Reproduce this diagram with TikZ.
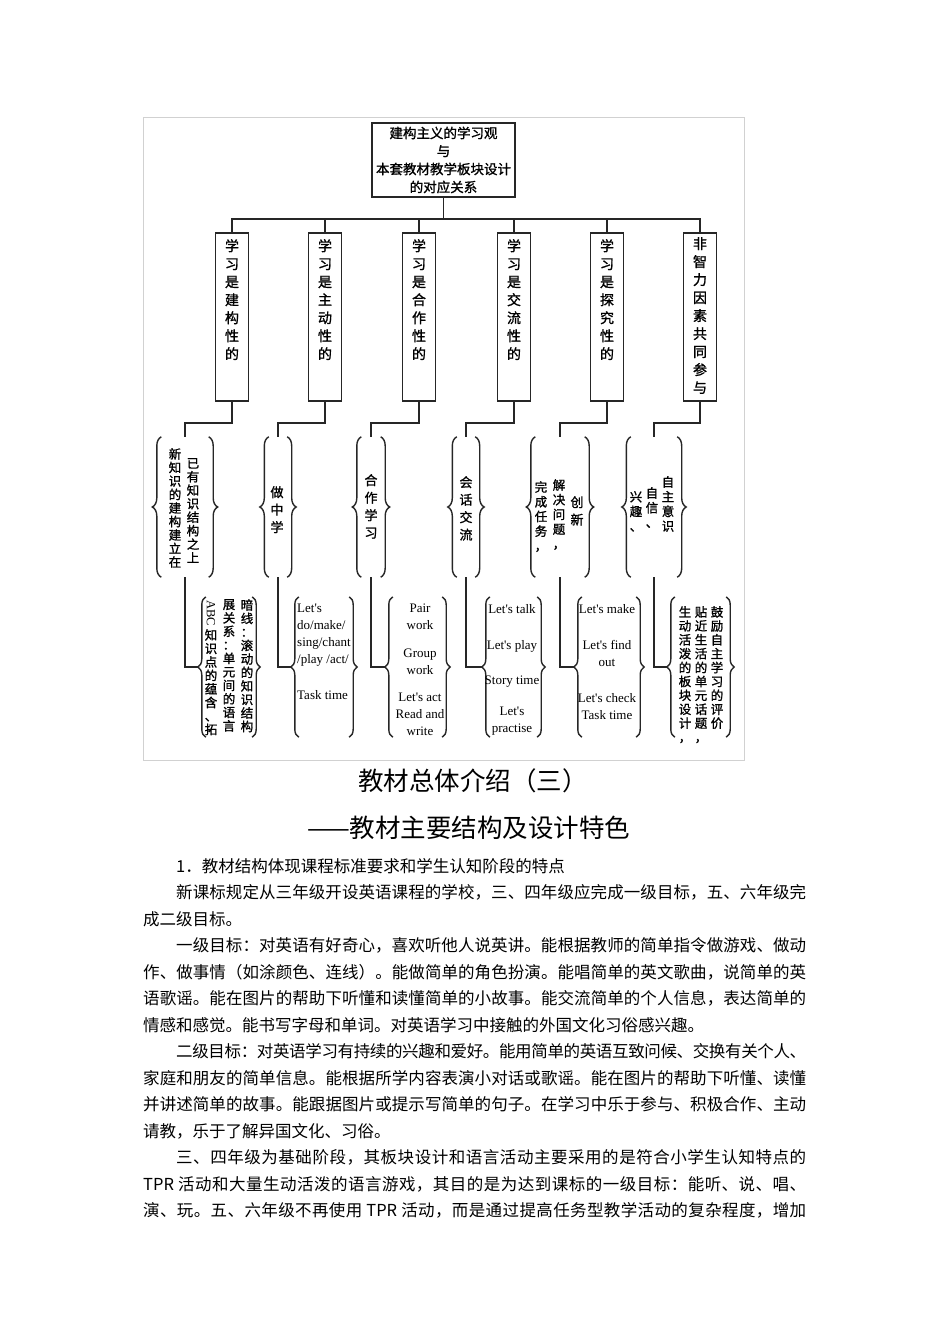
\documentclass[tikz,border=0pt]{standalone}
\usepackage{fontspec}
\usepackage{graphicx}
\newfontfamily\cjk{Noto Sans CJK SC}
\newfontfamily\cjkd[FakeBold=1.2]{Noto Sans CJK SC}
\newfontfamily\rom{Liberation Serif}
\usetikzlibrary{decorations.pathreplacing}
\def\myend{\myend}
\def\myendmark{\myend}
\def\vtA#1{#1\vtB}
\def\vtB#1{\def\vttmp{#1}\ifx\vttmp\myendmark\else\\#1\expandafter\vtB\fi}
\newcommand\vt[1]{\vtA#1\myend}
\def\jA#1{#1\jB}
\def\jB#1{\def\vttmp{#1}\ifx\vttmp\myendmark\else\hskip0pt plus1fil minus1pt\relax#1\expandafter\jB\fi}
\newcommand\jline[2]{\hbox to #1{\jA#2\myend}}
\tikzset{
  ln/.style={line width=1.6pt, draw=black!85},
  lbox/.style={draw=black!85, line width=1.7pt, minimum width=33pt, minimum height=168pt, inner sep=0pt},
  grp/.style={minimum height=140pt, inner sep=0pt, draw=none},
  bracetwo/.style={decorate, decoration={brace, amplitude=9pt}, line width=1.4pt, draw=black!85},
  bracethree/.style={decorate, decoration={brace, amplitude=8pt}, line width=1.4pt, draw=black!85},
  vtone/.style={align=center, inner sep=0pt, anchor=north, font=\cjkd\fontsize{14}{18}\selectfont},
  vtwo/.style={align=center, inner sep=0pt, anchor=north, font=\cjkd\fontsize{12.5}{13.5}\selectfont},
  vwide/.style={align=center, inner sep=0pt, anchor=north, font=\cjkd\fontsize{13}{17.5}\selectfont},
  vmid/.style={align=center, inner sep=0pt, anchor=north, font=\cjkd\fontsize{12.5}{14.7}\selectfont},
  eng/.style={inner sep=0pt, font=\rom\fontsize{13}{17}\selectfont},
  body/.style={inner sep=0pt, anchor=west, font=\cjk\fontsize{16.5}{20}\selectfont},
  ttl/.style={inner sep=0pt, anchor=west, font=\cjk\fontsize{25.5}{30}\selectfont}
}
\begin{document}
\begin{tikzpicture}[x=1pt,y=-1pt]
\useasboundingbox (0,0) rectangle (950,1344);
\fill[white] (0,0) rectangle (950,1344);
% frame of the figure
\draw[black!18, line width=1pt] (143,117) rectangle (744,760);
% top box
\node[draw=black!85, line width=1.7pt, minimum width=143pt, minimum height=74pt, inner sep=0pt, align=center,
      font=\cjkd\fontsize{13.5}{18}\selectfont] (top) at (443.5,160)
      {建构主义的学习观\\与\\本套教材教学板块设计\\的对应关系};
\coordinate (bus) at (443.5,219);
% level 1 boxes
\node[lbox] (b1) at (232,317) {};
\node[lbox] (b2) at (325,317) {};
\node[lbox] (b3) at (419,317) {};
\node[lbox] (b4) at (514,317) {};
\node[lbox] (b5) at (607,317) {};
\node[lbox] (b6) at (700,317) {};
\node[vtone] (t1) at (232,239) {\vt{学习是建构性的}};
\node[vtone] (t2) at (325,239) {\vt{学习是主动性的}};
\node[vtone] (t3) at (419,239) {\vt{学习是合作性的}};
\node[vtone] (t4) at (514,239) {\vt{学习是交流性的}};
\node[vtone] (t5) at (607,239) {\vt{学习是探究性的}};
\node[vtone] (t6) at (700,237) {\vt{非智力因素共同参与}};
\draw[ln] (top.south) -- (bus);
\foreach \b in {b1,b2,b3,b4,b5,b6} { \draw[ln] (\b.north) |- (bus); }
% level 2 groups
\node[grp, minimum width=47pt] (g1) at (185,507) {};
\node[grp, minimum width=18pt] (g2) at (278,507) {};
\node[grp, minimum width=19pt] (g3) at (371,507) {};
\node[grp, minimum width=18pt] (g4) at (466,507) {};
\node[grp, minimum width=49pt] (g5) at (560,507) {};
\node[grp, minimum width=46pt] (g6) at (654,507) {};
\foreach \g in {g1,g2,g3,g4,g5,g6} {
  \draw[bracetwo] (\g.south west) -- (\g.north west);
  \draw[bracetwo] (\g.north east) -- (\g.south east);
}
\draw[ln] (b1.south) -- (b1.south |- 0,423) -| (g1.north);
\draw[ln] (b2.south) -- (b2.south |- 0,423) -| (g2.north);
\draw[ln] (b3.south) -- (b3.south |- 0,423) -| (g3.north);
\draw[ln] (b4.south) -- (b4.south |- 0,423) -| (g4.north);
\draw[ln] (b5.south) -- (b5.south |- 0,423) -| (g5.north);
\draw[ln] (b6.south) -- (b6.south |- 0,423) -| (g6.north);
% level 2 texts
\node[vtwo] (s1a) at (175,448) {\vt{新知识的建构建立在}};
\node[vtwo] (s1b) at (193,458) {\vt{已有知识结构之上}};
\node[vwide] (s2) at (277,486) {\vt{做中学}};
\node[vwide] (s3) at (371,474) {\vt{合作学习}};
\node[vwide] (s4) at (466,476) {\vt{会话交流}};
\node[vmid] (s5a) at (541,481) {\vt{完成任务，}};
\node[vmid] (s5b) at (559,479) {\vt{解决问题，}};
\node[vwide] (s5c) at (577,496) {\vt{创新}};
\node[vmid] (s6a) at (668,476) {\vt{自主意识}};
\node[vmid] (s6b) at (652,487) {\vt{自信、}};
\node[vmid] (s6c) at (636,491) {\vt{兴趣、}};
% level 3 groups
\node[grp, minimum width=46pt] (h1) at (229,667) {};
\node[grp, minimum width=50pt] (h2) at (324,667) {};
\node[grp, minimum width=49pt] (h3) at (417.5,667) {};
\node[grp, minimum width=47pt] (h4) at (513.5,667) {};
\node[grp, minimum width=54pt] (h5) at (609,667) {};
\node[grp, minimum width=51pt] (h6) at (700.5,667) {};
\foreach \h in {h1,h2,h3,h4,h5,h6} {
  \draw[bracethree] (\h.south west) -- (\h.north west);
  \draw[bracethree] (\h.north east) -- (\h.south east);
}
\draw[ln] (g1.south) |- ([xshift=-8pt]h1.west);
\draw[ln] (g2.south) |- ([xshift=-8pt]h2.west);
\draw[ln] (g3.south) |- ([xshift=-8pt]h3.west);
\draw[ln] (g4.south) |- ([xshift=-8pt]h4.west);
\draw[ln] (g5.south) |- ([xshift=-8pt]h5.west);
\draw[ln] (g6.south) |- ([xshift=-8pt]h6.west);
% level 3 texts
\node[vtwo] (u1a) at (247,599) {\vt{暗线：滚动的知识结构}};
\node[vtwo] (u1b) at (229,599) {\vt{展关系：单元间的语言}};
\node[inner sep=0pt, rotate=-90, font=\rom\fontsize{12.5}{13}\selectfont] (u1c) at (211,613) {ABC};
\node[vtwo] (u1d) at (211,629) {\vt{知识点的蕴含、拓}};
\node[eng, anchor=north west, align=left] (u2) at (297,604)
  {Let's\\do/make/\\sing/chant\\/play /act/\\[19pt]Task time};
\node[eng, anchor=north, align=center] (u3) at (420,604)
  {Pair\\work\\[11pt]Group\\work\\[10pt]Let's act\\Read and\\write};
\node[eng, anchor=north, align=center] (u4) at (512,604)
  {Let's talk\\[19pt]Let's play\\[18pt]Story time\\[14pt]Let's\\practise};
\node[eng, anchor=north, align=center] (u5) at (607,604)
  {Let's make\\[19pt]Let's find\\out\\[19pt]Let's check\\Task time};
\node[vtwo, font=\cjkd\fontsize{12.5}{13.9}\selectfont] (u6a) at (717,606) {\vt{鼓励自主学习的评价}};
\node[vtwo, font=\cjkd\fontsize{12.5}{13.9}\selectfont] (u6b) at (701,606) {\vt{贴近生活的单元话题，}};
\node[vtwo, font=\cjkd\fontsize{12.5}{13.9}\selectfont] (u6c) at (685,606) {\vt{生动活泼的板块设计，}};
% titles
\node[ttl] (title1) at (358,781) {教材总体介绍（三）};
\node[ttl] (title2) at (307,828) {——教材主要结构及设计特色};
% body text
\node[body] (p1) at (176,866) {1．教材结构体现课程标准要求和学生认知阶段的特点};
\node[body] (p2) at (176,892.5) {\jline{630pt}{新课标规定从三年级开设英语课程的学校，三、四年级应完成一级目标，五、六年级完}};
\node[body] (p3) at (143,919) {成二级目标。};
\node[body] (p4) at (176,945.5) {\jline{630pt}{一级目标：对英语有好奇心，喜欢听他人说英讲。能根据教师的简单指令做游戏、做动}};
\node[body] (p5) at (143,972) {\jline{663pt}{作、做事情（如涂颜色、连线）。能做简单的角色扮演。能唱简单的英文歌曲，说简单的英}};
\node[body] (p6) at (143,998.5) {\jline{663pt}{语歌谣。能在图片的帮助下听懂和读懂简单的小故事。能交流简单的个人信息，表达简单的}};
\node[body] (p7) at (143,1025) {情感和感觉。能书写字母和单词。对英语学习中接触的外国文化习俗感兴趣。};
\node[body] (p8) at (176,1051.5) {\jline{630pt}{二级目标：对英语学习有持续的兴趣和爱好。能用简单的英语互致问候、交换有关个人、}};
\node[body] (p9) at (143,1078) {\jline{663pt}{家庭和朋友的简单信息。能根据所学内容表演小对话或歌谣。能在图片的帮助下听懂、读懂}};
\node[body] (p10) at (143,1104.5) {\jline{663pt}{并讲述简单的故事。能跟据图片或提示写简单的句子。在学习中乐于参与、积极合作、主动}};
\node[body] (p11) at (143,1131) {请教，乐于了解异国文化、习俗。};
\node[body] (p12) at (176,1157.5) {\jline{630pt}{三、四年级为基础阶段，其板块设计和语言活动主要采用的是符合小学生认知特点的}};
\node[body] (p13) at (143,1184) {\jline{663pt}{{TPR\ }活动和大量生动活泼的语言游戏，其目的是为达到课标的一级目标：能听、说、唱、}};
\node[body] (p14) at (143,1210.5) {\jline{663pt}{演、玩。五、六年级不再使用{\ TPR\ }活动，而是通过提高任务型教学活动的复杂程度，增加}};
\end{tikzpicture}
\end{document}
